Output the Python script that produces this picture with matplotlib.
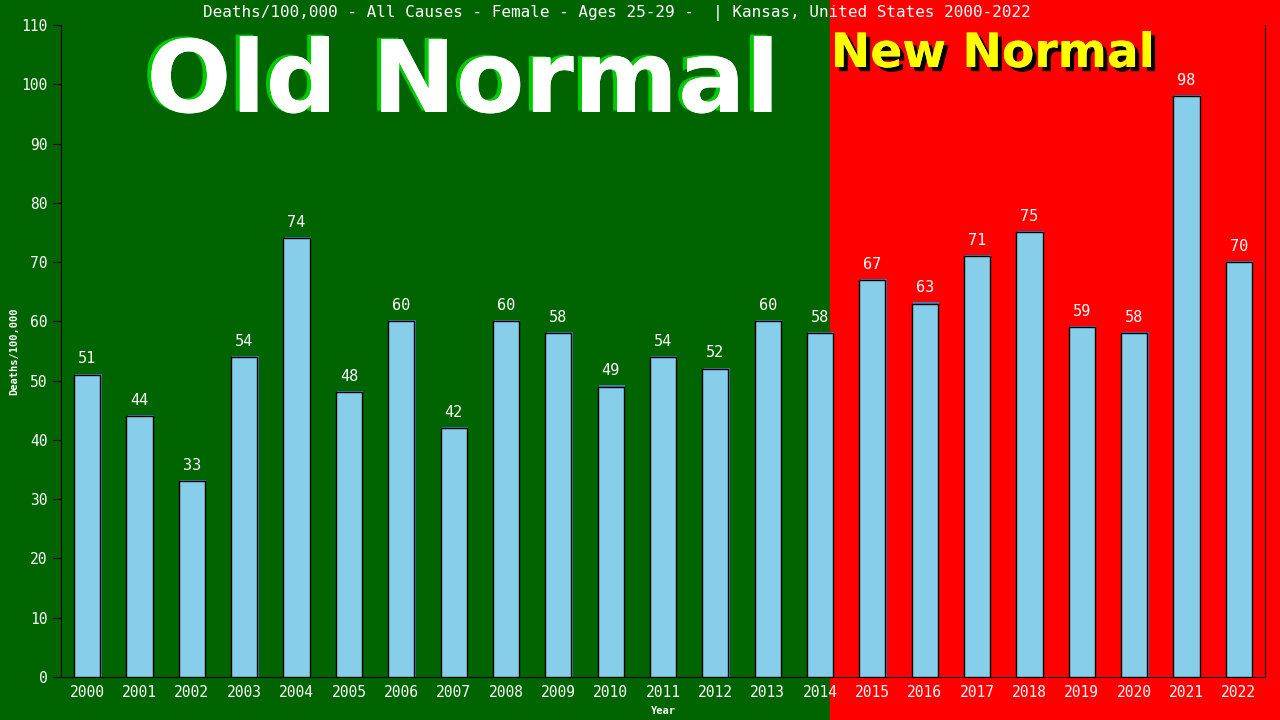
import matplotlib
matplotlib.use("Agg")
import matplotlib.pyplot as plt
import matplotlib.patheffects as pe
from matplotlib.patches import Rectangle

years = [str(y) for y in range(2000, 2023)]
deaths = [51, 44, 33, 54, 74, 48, 60, 42, 60, 58, 49, 54, 52, 60, 58,
          67, 63, 71, 75, 59, 58, 98, 70]
yticks = list(range(0, 111, 10))

title = "Deaths/100,000 - All Causes - Female - Ages 25-29 -  | Kansas, United States 2000-2022"

fig = plt.figure(figsize=(12.8, 7.2), dpi=100)
split = 830 / 1280
fig.patches.append(Rectangle((0, 0), split, 1, transform=fig.transFigure,
                             color="#006400", zorder=-10))
fig.patches.append(Rectangle((split, 0), 1 - split, 1, transform=fig.transFigure,
                             color="#ff0000", zorder=-10))

ax = fig.add_axes([61 / 1280, 43 / 720, 1204 / 1280, 652 / 720])
ax.set_facecolor("none")

x = list(range(len(years)))
w = 0.5
# steelblue shadow, offset up-right by about one pixel
ax.bar([i + 0.025 for i in x], [d + 0.2 for d in deaths], width=w,
       color="#4682b4", zorder=2)
ax.bar(x, deaths, width=w, color="#87ceeb", edgecolor="black",
       linewidth=1, zorder=3)

for i, d in zip(x, deaths):
    ax.text(i, d + 1.4, str(d), ha="center", va="bottom", color="white",
            family="DejaVu Sans Mono", fontsize=11, zorder=4)

ax.set_xlim(-0.5, len(years) - 0.5)
ax.set_ylim(0, 110)
ax.set_yticks(yticks)
ax.set_xticks(x)
ax.set_xticklabels(years)
ax.tick_params(axis="y", colors="black", labelcolor="white", length=6,
               labelsize=10.5)
ax.tick_params(axis="x", length=0, labelcolor="white", labelsize=10.5, pad=6)
for lab in ax.get_xticklabels() + ax.get_yticklabels():
    lab.set_family("DejaVu Sans Mono")
ax.spines["top"].set_visible(False)
for s in ["left", "right", "bottom"]:
    ax.spines[s].set_color("black")

ax.set_ylabel("Deaths/100,000", color="white", family="DejaVu Sans Mono",
              fontsize=7.5, fontweight="bold")
ax.yaxis.set_label_coords(-0.035, 0.5)
ax.set_xlabel("Year", color="white", family="DejaVu Sans Mono",
              fontsize=7.5, fontweight="bold")
ax.xaxis.set_label_coords(0.5, -0.044)

fig.text(0.482, 1 - 13 / 720, title, ha="center", va="center", color="white",
         family="DejaVu Sans Mono", fontsize=11.5)

fig.text(463 / 1280, 1 - 112 / 720, "Old Normal", ha="center",
         va="baseline", color="white", family="DejaVu Sans",
         fontweight="bold", fontsize=72,
         path_effects=[pe.withSimplePatchShadow(offset=(-3, 1),
                                                shadow_rgbFace="#00cc00",
                                                alpha=1.0),
                       pe.Normal()])
fig.text(993 / 1280, 1 - 67 / 720, "New Normal", ha="center",
         va="baseline", color="#ffff00", family="DejaVu Sans",
         fontweight="bold", fontsize=34,
         path_effects=[pe.withSimplePatchShadow(offset=(3, -3),
                                                shadow_rgbFace="black",
                                                alpha=1.0),
                       pe.Normal()])

fig.savefig("out.png", dpi=100)
